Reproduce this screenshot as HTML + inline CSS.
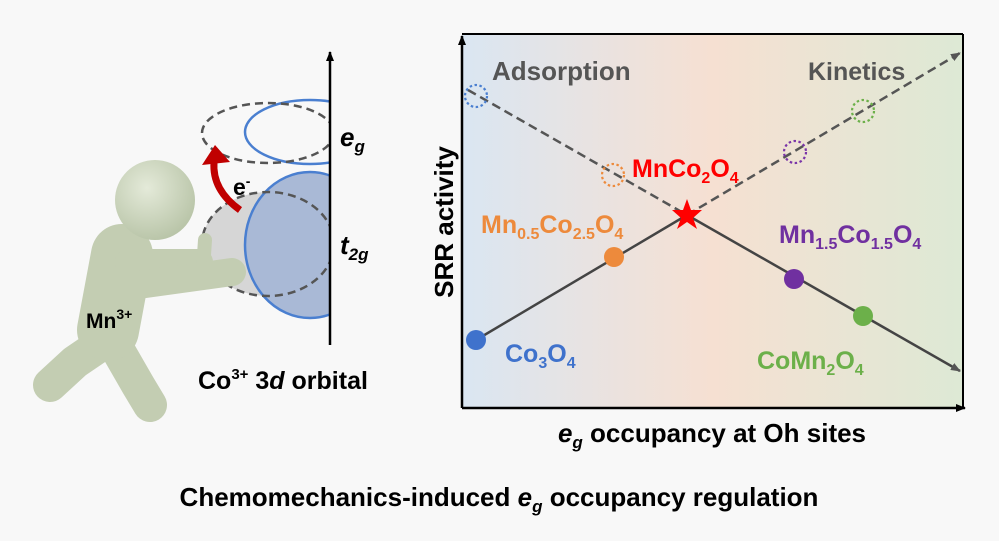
<!DOCTYPE html>
<html><head><meta charset="utf-8"><style>
html,body{margin:0;padding:0;background:#f8f8f8;}
svg{display:block;font-family:"Liberation Sans",Arial,sans-serif;font-weight:bold;}
</style></head><body>
<svg width="999" height="541" viewBox="0 0 999 541" xmlns="http://www.w3.org/2000/svg">
<defs>
<linearGradient id="bg" x1="0" x2="1" y1="0" y2="0">
<stop offset="0" stop-color="#dae6f2"/><stop offset="0.5" stop-color="#f6e0d2"/><stop offset="1" stop-color="#dde9d5"/>
</linearGradient>
<radialGradient id="sk" cx="0.4" cy="0.35" r="0.7">
<stop offset="0" stop-color="#e4ead9"/><stop offset="1" stop-color="#b7c3a6"/>
</radialGradient>
<clipPath id="lc"><rect x="0" y="0" width="330" height="400"/></clipPath>
<marker id="ah" markerWidth="10" markerHeight="8" refX="9" refY="4" orient="auto" markerUnits="userSpaceOnUse"><path d="M0,0 L10,4 L0,8 Z" fill="#555"/></marker>
<marker id="ak" markerWidth="10" markerHeight="8" refX="9" refY="4" orient="auto" markerUnits="userSpaceOnUse"><path d="M0,0 L10,4 L0,8 Z" fill="#000"/></marker>
</defs>
<rect width="999" height="541" fill="#f8f8f8"/>

<!-- left orbital -->
<g clip-path="url(#lc)">
<ellipse cx="268" cy="244" rx="66" ry="52" fill="#d6d6d6"/>
<ellipse cx="310" cy="245" rx="65" ry="73" fill="#a9b9d6" stroke="#4a7fd0" stroke-width="2.5"/>
<ellipse cx="268" cy="244" rx="66" ry="52" fill="none" stroke="#555" stroke-width="2.5" stroke-dasharray="8,5"/>
<ellipse cx="310" cy="132" rx="65" ry="32" fill="none" stroke="#4a7fd0" stroke-width="2.5"/>
<ellipse cx="268" cy="133" rx="66" ry="30" fill="none" stroke="#555" stroke-width="2.5" stroke-dasharray="8,5"/>
</g>
<line x1="330" y1="345" x2="330" y2="52" stroke="#000" stroke-width="2.5" marker-end="url(#ak)"/>

<!-- person -->
<g stroke="#c3cdb2" stroke-linecap="round" stroke-linejoin="round" fill="none">
<path d="M100,345 L75,362 L50,385" stroke-width="34"/>
<path d="M115,345 L138,385 L150,405" stroke-width="34"/>
<path d="M122,255 L108,330" stroke-width="62"/>
<path d="M128,262 L200,262" stroke-width="26"/>
<path d="M203,270 L205,240" stroke-width="14"/>
<path d="M138,285 L232,272" stroke-width="28"/>
</g>
<circle cx="155" cy="200" r="40" fill="url(#sk)"/>
<text x="86" y="328" font-size="21">Mn<tspan dy="-9" font-size="14">3+</tspan></text>

<path d="M240,210 Q212,190 214,162" fill="none" stroke="#c00000" stroke-width="7"/>
<path d="M202,165 L215,145 L230,162 Z" fill="#c00000"/>
<text x="233" y="195" font-size="23">e<tspan dy="-9" font-size="14">-</tspan></text>
<text x="340" y="146" font-size="26" font-style="italic">e<tspan dy="6" font-size="17">g</tspan></text>
<text x="340" y="254" font-size="26" font-style="italic">t<tspan dy="6" font-size="17">2g</tspan></text>
<text x="198" y="389" font-size="25">Co<tspan dy="-10" font-size="15">3+</tspan><tspan dy="10"> 3</tspan><tspan font-style="italic">d</tspan> orbital</text>

<!-- plot -->
<rect x="462" y="34" width="501" height="374" fill="url(#bg)"/>
<line x1="462" y1="408" x2="462" y2="36" stroke="#000" stroke-width="2.5" marker-end="url(#ak)"/>
<line x1="462" y1="408" x2="965" y2="408" stroke="#000" stroke-width="2.5" marker-end="url(#ak)"/>
<line x1="963" y1="34" x2="963" y2="408" stroke="#000" stroke-width="2"/>
<line x1="462" y1="34" x2="963" y2="34" stroke="#000" stroke-width="2"/>

<line x1="468" y1="90" x2="687" y2="215" stroke="#555" stroke-width="2.5" stroke-dasharray="9,5"/>
<line x1="687" y1="215" x2="960" y2="53" stroke="#555" stroke-width="2.5" stroke-dasharray="9,5" marker-end="url(#ah)"/>
<line x1="476" y1="340" x2="687" y2="215" stroke="#444" stroke-width="2.5"/>
<line x1="687" y1="215" x2="960" y2="371" stroke="#444" stroke-width="2.5" marker-end="url(#ah)"/>

<g fill="none" stroke-width="2.2" stroke-dasharray="2.5,2.5">
<circle cx="476" cy="96" r="11" stroke="#4a7fd0"/>
<circle cx="613" cy="175" r="11" stroke="#ed8a3c"/>
<circle cx="795" cy="152" r="11" stroke="#7a35a8"/>
<circle cx="863" cy="111" r="11" stroke="#6cb04a"/>
</g>
<circle cx="476" cy="340" r="10" fill="#3f72cc"/>
<circle cx="614" cy="257" r="10" fill="#ed8a3c"/>
<circle cx="794" cy="279" r="10" fill="#7030a0"/>
<circle cx="863" cy="316" r="10" fill="#6cb04a"/>
<path d="M687,199 L691,210 L702,210 L693,218 L697,229 L687,222 L677,229 L681,218 L672,210 L683,210 Z" fill="#ff0000"/>

<text x="492" y="80" font-size="26" fill="#555">Adsorption</text>
<text x="808" y="80" font-size="25" fill="#555">Kinetics</text>
<text x="632" y="177" font-size="25" fill="#ff0000">MnCo<tspan dy="6" font-size="16">2</tspan><tspan dy="-6">O</tspan><tspan dy="6" font-size="16">4</tspan></text>
<text x="481" y="233" font-size="25" fill="#ed8a3c">Mn<tspan dy="6" font-size="16">0.5</tspan><tspan dy="-6">Co</tspan><tspan dy="6" font-size="16">2.5</tspan><tspan dy="-6">O</tspan><tspan dy="6" font-size="16">4</tspan></text>
<text x="779" y="243" font-size="25" fill="#7030a0">Mn<tspan dy="6" font-size="16">1.5</tspan><tspan dy="-6">Co</tspan><tspan dy="6" font-size="16">1.5</tspan><tspan dy="-6">O</tspan><tspan dy="6" font-size="16">4</tspan></text>
<text x="505" y="362" font-size="25" fill="#3f72cc">Co<tspan dy="6" font-size="16">3</tspan><tspan dy="-6">O</tspan><tspan dy="6" font-size="16">4</tspan></text>
<text x="757" y="369" font-size="25" fill="#6cb04a">CoMn<tspan dy="6" font-size="16">2</tspan><tspan dy="-6">O</tspan><tspan dy="6" font-size="16">4</tspan></text>

<text transform="translate(453,222) rotate(-90)" text-anchor="middle" font-size="26" fill="#000">SRR activity</text>
<text x="712" y="442" text-anchor="middle" font-size="26"><tspan font-style="italic">e</tspan><tspan dy="6" font-size="17" font-style="italic">g</tspan><tspan dy="-6"> occupancy at Oh sites</tspan></text>
<text x="499" y="506" text-anchor="middle" font-size="26">Chemomechanics-induced <tspan font-style="italic">e</tspan><tspan dy="6" font-size="17" font-style="italic">g</tspan><tspan dy="-6"> occupancy regulation</tspan></text>
</svg>
</body></html>
